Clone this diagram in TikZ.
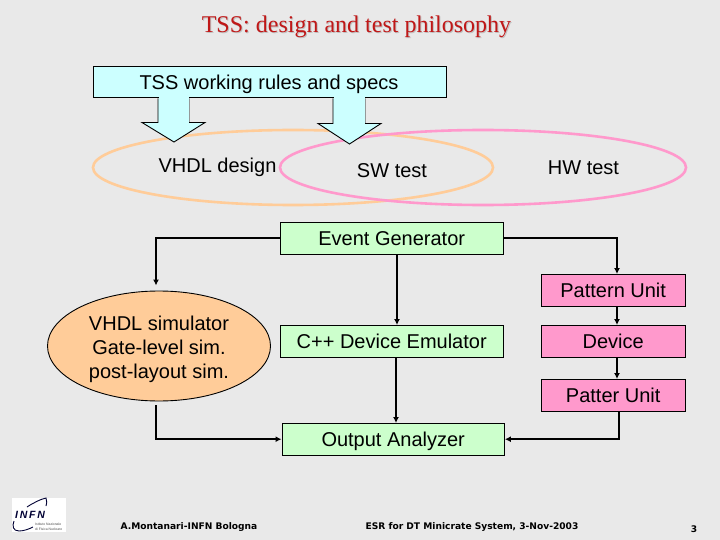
\documentclass[tikz,border=0pt]{standalone}
\usepackage{fontspec}
\setmainfont{Liberation Sans}
\newfontfamily\titlefont{Liberation Serif}
\newfontfamily\footfont{DejaVu Sans}
\usetikzlibrary{arrows.meta,shapes.geometric,calc}
\definecolor{bgc}{HTML}{E9E9E9}
\definecolor{cyanfill}{HTML}{CCFFFF}
\definecolor{greenfill}{HTML}{CCFFCC}
\definecolor{pinkfill}{HTML}{FF99CC}
\definecolor{orangefill}{HTML}{FFCC99}
\definecolor{titlered}{HTML}{C01818}
\tikzset{
  lbl/.style={font=\fontsize{20}{24}\selectfont,text=black,inner sep=0pt,align=center},
  box/.style={draw=black,line width=0.9pt,lbl,anchor=north west,text height=16.5pt,text depth=2.5pt},
  greenbox/.style={box,fill=greenfill,minimum width=222.5pt,minimum height=31.5pt},
  pinkbox/.style={box,fill=pinkfill,minimum width=143.5pt,minimum height=31.5pt},
  conn/.style={draw=black,line width=1.7pt,-{Latex[length=6pt,width=6pt]}},
  specarrow/.style={draw=black,line width=0.9pt,fill=cyanfill},
  footer/.style={font=\footfont\bfseries\fontsize{9.1}{10}\selectfont,text=black,inner sep=0pt}
}
\begin{document}
\begin{tikzpicture}[x=1pt,y=-1pt]
\useasboundingbox (0,0) rectangle (720,540);
\fill[bgc] (0,0) rectangle (720,540);
% title
\node[font=\titlefont\fontsize{24}{28}\selectfont,text=black!25,inner sep=0pt] at (357.5,28) {TSS: design and test philosophy};
\node[font=\titlefont\fontsize{24}{28}\selectfont,text=titlered,inner sep=0pt] (title) at (356.5,27) {TSS: design and test philosophy};
% ellipses
\draw[draw=orangefill,line width=2.6pt] (293,167.5) ellipse [x radius=200,y radius=37.5];
\draw[draw=pinkfill,line width=2.6pt] (483,167.5) ellipse [x radius=203,y radius=37.5];
% top box
\node[box,fill=cyanfill,minimum width=352.5pt,minimum height=31.5pt] (specs) at (93,66) {};
\node[lbl] (specstext) at (269,84.5) {TSS working rules and specs};
% block arrows
\draw[specarrow] (158,98.5) -- (158,122.5) -- (142,122.5) -- (174,142) -- (205,122.5) -- (189,122.5) -- (189,98.5);
\fill[cyanfill] (158.5,97.5) rectangle (188.5,123);
\draw[specarrow] (333,98.5) -- (333,123.5) -- (318,123.5) -- (349.5,144) -- (381,123.5) -- (365,123.5) -- (365,98.5);
\fill[cyanfill] (333.5,97.5) rectangle (364.5,124);
% ellipse labels
\node[lbl] (vhdl) at (217.5,167.5) {VHDL design};
\node[lbl] (sw) at (392,171) {SW test};
\node[lbl] (hw) at (583.5,168) {HW test};
% boxes
\node[greenbox] (eg) at (280,222) {Event Generator};
\node[greenbox] (emu) at (280,325) {C++ Device Emulator};
\node[greenbox] (oa) at (281.5,423) {Output Analyzer};
\node[pinkbox] (pu) at (541,274) {Pattern Unit};
\node[pinkbox] (dev) at (541,325) {Device};
\node[pinkbox] (pu2) at (541,379) {Patter Unit};
% simulator
\node[draw=black,line width=0.9pt,fill=orangefill,ellipse,minimum width=223pt,minimum height=110pt,inner sep=0pt] (sim) at (159,346) {};
\node[lbl] (simtext) at (159,349) {VHDL simulator\\Gate-level sim.\\post-layout sim.};
% connectors
\coordinate (simin) at (156,285.5);
\coordinate (simout) at (156,405);
\coordinate (puin) at (617,274);
\coordinate (puout) at (617,306);
\coordinate (devin) at (617,325);
\coordinate (devout) at (617,357);
\coordinate (pubin) at (617,379);
\coordinate (pubout) at (619,411);
\coordinate (egout) at (397,254);
\coordinate (emuin) at (397,325);
\coordinate (emuout) at (396,357);
\coordinate (oain) at (396,423);
\draw[conn] (eg.west) -| (simin);
\draw[conn] (simout) |- (oa.west);
\draw[conn] (eg.east) -| (puin);
\draw[conn] (puout) -- (devin);
\draw[conn] (devout) -- (pubin);
\draw[conn] (pubout) |- (oa.east);
\draw[conn] (egout) -- (emuin);
\draw[conn] (emuout) -- (oain);
% logo
\fill[white] (12,498) rectangle (66,532);
\node[font=\bfseries\itshape\fontsize{10.5}{12}\selectfont,text=black!80!blue,inner sep=0pt] (infn) at (30,515) {I\,N\,F\,N};
\draw[black!80!blue,line width=0.9pt] (27,507) .. controls (33,503) and (41,499) .. (46,498) .. controls (47,501) and (47,504) .. (46,506);
\draw[black!80!blue,line width=0.9pt] (14,521) .. controls (12,526) and (13,531) .. (19,531) .. controls (24,531) and (29,529) .. (33,527);
\node[font=\fontsize{3.4}{4.6}\selectfont,text=black!70,align=left,inner sep=0pt,anchor=west] (infnsub) at (35,526.5) {Istituto Nazionale\\di Fisica Nucleare};
% footer
\node[footer] (auth) at (189,527) {A.Montanari-INFN Bologna};
\node[footer] (esr) at (472,527) {ESR for DT Minicrate System, 3-Nov-2003};
\node[footer] (pg) at (694,529.5) {3};
\end{tikzpicture}
\end{document}
